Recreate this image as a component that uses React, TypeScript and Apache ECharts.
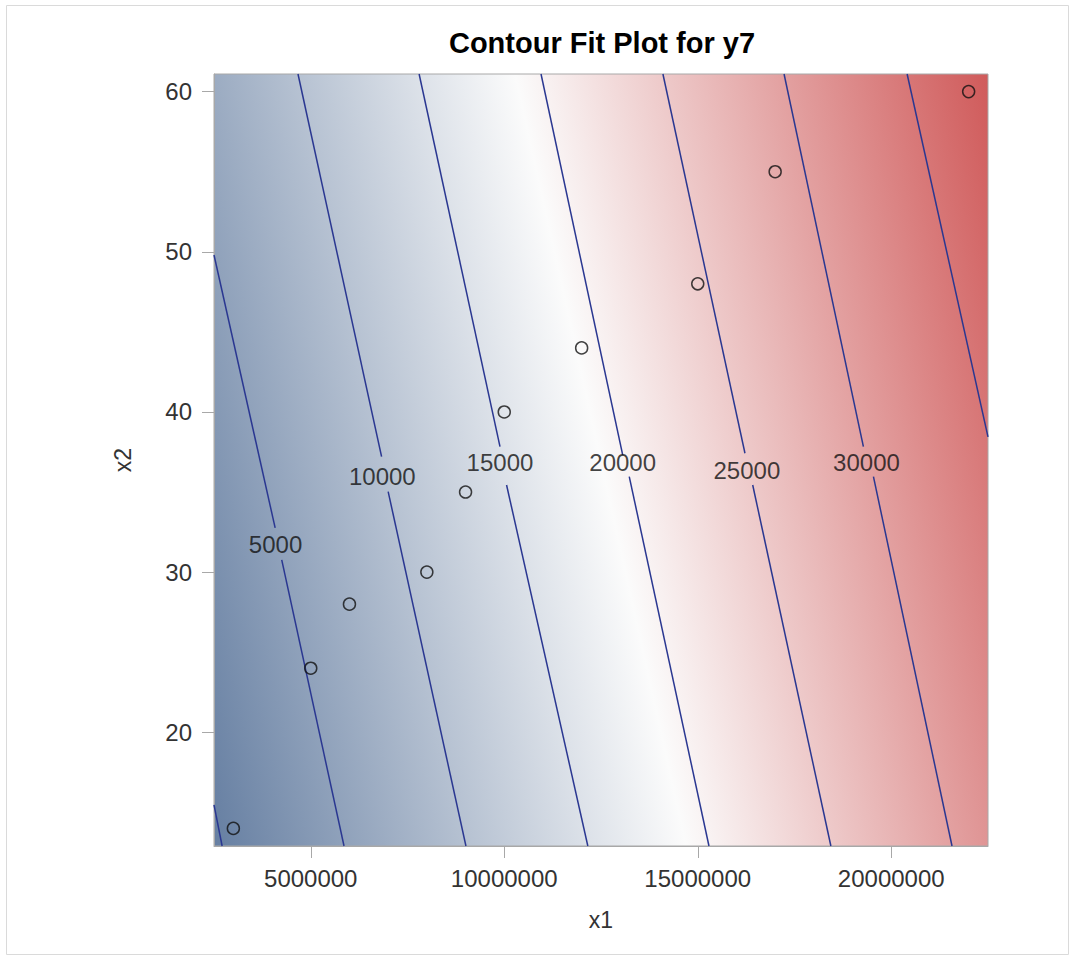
import React, { useEffect, useRef } from "react";
import * as echarts from "echarts";

// Axis ticks
const xTicks = [5000000, 10000000, 15000000, 20000000];
const yTicks = [20, 30, 40, 50, 60];

// Observations
const obsX1 = [3000000, 5000000, 6000000, 8000000, 9000000, 10000000, 12000000, 15000000, 17000000, 22000000];
const obsX2 = [14, 24, 28, 30, 35, 40, 44, 48, 55, 60];

// Contour line segments ([x1, x2] points); gaps are where labels sit
const contour0 = [[2500000, 15.47], [2710000, 12.9]];
const contour5000a = [[2500000, 49.8], [4080000, 32.76]];
const contour5000b = [[4250000, 30.76], [5860000, 12.9]];
const contour10000a = [[4670000, 61.1], [6830000, 37.21]];
const contour10000b = [[7000000, 35.03], [9010000, 12.9]];
const contour15000a = [[7800000, 61.1], [9890000, 37.84]];
const contour15000b = [[10060000, 35.44], [12160000, 12.9]];
const contour20000a = [[10950000, 61.1], [13060000, 37.32]];
const contour20000b = [[13230000, 35.96], [15290000, 12.9]];
const contour25000a = [[14100000, 61.1], [16220000, 37.42]];
const contour25000b = [[16420000, 35.44], [18440000, 12.9]];
const contour30000a = [[17230000, 61.1], [19280000, 37.84]];
const contour30000b = [[19540000, 35.96], [21570000, 12.9]];
const contour35000 = [[20410000, 61.1], [22500000, 38.44]];

// Contour labels
const labelLevels = [5000, 10000, 15000, 20000, 25000, 30000];
const labelX1 = [4090000, 6850000, 9890000, 13060000, 16270000, 19360000];
const labelX2 = [31.7, 36.0, 36.85, 36.82, 36.32, 36.82];

const FONT = '"Liberation Sans", Arial, Helvetica, sans-serif';

export default function App() {
  const ref = useRef<HTMLDivElement>(null);
  useEffect(() => {
    if (!ref.current) return;
    const chart = echarts.init(ref.current, undefined, { renderer: "svg" });
    const segments = [
      contour0, contour5000a, contour5000b, contour10000a, contour10000b,
      contour15000a, contour15000b, contour20000a, contour20000b,
      contour25000a, contour25000b, contour30000a, contour30000b, contour35000,
    ];
    const gradient = {
      type: "linear",
      x: 0, y: 1, x2: 1.163, y2: 0.743,
      colorStops: [
        { offset: 0, color: "#667FA2" },
        { offset: 0.5, color: "#FBFBFB" },
        { offset: 1, color: "#D05B5B" },
      ],
      global: false,
    };
    const axisColor = "#a8a8a8";
    chart.setOption({
      animation: false,
      grid: {
        left: 214, top: 74, width: 774, height: 772,
        show: true, borderColor: axisColor, borderWidth: 1,
        backgroundColor: gradient,
      },
      xAxis: {
        type: "value", min: 2500000, max: 22500000,
        name: "x1", nameLocation: "middle", nameGap: 62,
        nameTextStyle: { fontSize: 23, color: "#333", fontFamily: FONT },
        axisLine: { show: true, lineStyle: { color: axisColor } },
        axisTick: { show: true, length: 12, lineStyle: { color: axisColor }, customValues: xTicks },
        axisLabel: {
          customValues: xTicks, margin: 20, fontSize: 24, color: "#333", fontFamily: FONT,
          formatter: (v: number) => String(v),
        },
        splitLine: { show: false },
      },
      yAxis: {
        type: "value", min: 12.9, max: 61.1,
        name: "x2", nameLocation: "middle", nameGap: 80,
        nameTextStyle: { fontSize: 23, color: "#333", fontFamily: FONT },
        axisLine: { show: true, lineStyle: { color: axisColor } },
        axisTick: { show: true, length: 12, lineStyle: { color: axisColor }, customValues: yTicks },
        axisLabel: {
          customValues: yTicks, margin: 22, fontSize: 24, color: "#333", fontFamily: FONT,
          formatter: (v: number) => String(v),
        },
        splitLine: { show: false },
      },
      series: [
        {
          type: "lines",
          coordinateSystem: "cartesian2d",
          polyline: true,
          silent: true,
          data: segments.map((s) => ({ coords: s })),
          lineStyle: { color: "#2a3791", width: 1.5, opacity: 1 },
          z: 3,
        },
        {
          type: "scatter",
          silent: true,
          symbol: "circle",
          symbolSize: 1,
          itemStyle: { color: "rgba(0,0,0,0)" },
          data: labelLevels.map((lv, i) => [labelX1[i], labelX2[i], lv]),
          label: {
            show: true,
            position: "inside",
            formatter: (p: any) => String(p.value[2]),
            fontSize: 24,
            color: "#111",
            fontFamily: FONT,
          },
          z: 4,
        },
        {
          type: "scatter",
          silent: true,
          symbol: "circle",
          symbolSize: 12,
          itemStyle: { color: "rgba(0,0,0,0)", borderColor: "#111", borderWidth: 1.5 },
          data: obsX1.map((x, i) => [x, obsX2[i]]),
          z: 5,
        },
      ],
      graphic: [
        {
          type: "rect",
          silent: true,
          shape: { x: 6.5, y: 5.5, width: 1062, height: 949 },
          style: { fill: "none", stroke: "#dadada", lineWidth: 1 },
        },
        {
          type: "text",
          silent: true,
          x: 602,
          y: 43,
          style: {
            text: "Contour Fit Plot for y7",
            fontSize: 29,
            fontWeight: "bold",
            fontFamily: FONT,
            fill: "#000",
            align: "center",
            verticalAlign: "middle",
          },
        },
      ],
    });
    return () => chart.dispose();
  }, []);
  return (
    <div
      ref={ref}
      style={{ position: "absolute", left: 0, top: 0, width: 1075, height: 960, background: "#fff" }}
    />
  );
}
